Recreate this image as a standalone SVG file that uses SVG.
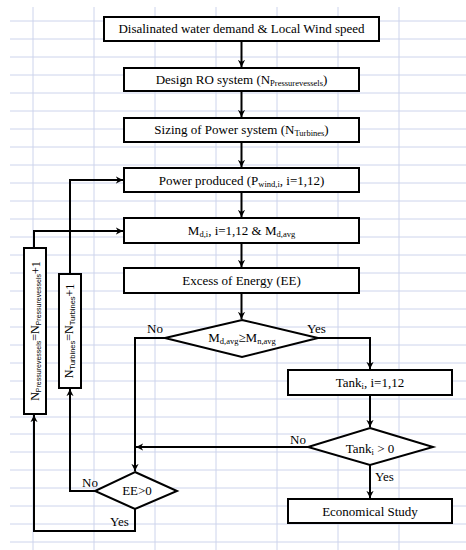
<svg xmlns="http://www.w3.org/2000/svg" width="466" height="550" viewBox="0 0 466 550">
<style>
.grid line{stroke:#cdd4ec;stroke-width:1}
.box{fill:#fff;stroke:#000;stroke-width:2}
.t{font-size:13px;fill:#000;text-anchor:middle}
.lbl{font-size:13px;fill:#000}
.s{font-size:8.5px}
.c{fill:none;stroke:#000;stroke-width:2}
</style>
<defs>
<marker id="ah" viewBox="0 0 10 10" refX="10" refY="5" markerWidth="3.6" markerHeight="3.6" orient="auto" markerUnits="strokeWidth">
<path d="M0,0 L10,5 L0,10 L3,5 z" fill="#000"/>
</marker>
</defs>
<rect width="466" height="550" fill="#fff"/>
<g class="grid">
<line x1="33" y1="7" x2="33" y2="550"/><line x1="94" y1="7" x2="94" y2="550"/><line x1="155" y1="7" x2="155" y2="550"/><line x1="216" y1="7" x2="216" y2="550"/><line x1="277" y1="7" x2="277" y2="550"/><line x1="338" y1="7" x2="338" y2="550"/><line x1="399" y1="7" x2="399" y2="550"/>
<line x1="10" y1="21" x2="466" y2="21"/><line x1="10" y1="39" x2="466" y2="39"/><line x1="10" y1="57" x2="466" y2="57"/><line x1="10" y1="75" x2="466" y2="75"/><line x1="10" y1="93" x2="466" y2="93"/><line x1="10" y1="111" x2="466" y2="111"/><line x1="10" y1="129" x2="466" y2="129"/><line x1="10" y1="147" x2="466" y2="147"/><line x1="10" y1="165" x2="466" y2="165"/><line x1="10" y1="183" x2="466" y2="183"/><line x1="10" y1="201" x2="466" y2="201"/><line x1="10" y1="219" x2="466" y2="219"/><line x1="10" y1="237" x2="466" y2="237"/><line x1="10" y1="255" x2="466" y2="255"/><line x1="10" y1="273" x2="466" y2="273"/><line x1="10" y1="291" x2="466" y2="291"/><line x1="10" y1="309" x2="466" y2="309"/><line x1="10" y1="327" x2="466" y2="327"/><line x1="10" y1="345" x2="466" y2="345"/><line x1="10" y1="363" x2="466" y2="363"/><line x1="10" y1="381" x2="466" y2="381"/><line x1="10" y1="399" x2="466" y2="399"/><line x1="10" y1="417" x2="466" y2="417"/><line x1="10" y1="434" x2="466" y2="434"/><line x1="10" y1="452" x2="466" y2="452"/><line x1="10" y1="470" x2="466" y2="470"/><line x1="10" y1="488" x2="466" y2="488"/><line x1="10" y1="506" x2="466" y2="506"/><line x1="10" y1="524" x2="466" y2="524"/><line x1="10" y1="542" x2="466" y2="542"/>
</g>
<g id="connectors">
<path class="c" d="M241.5,41 V67" marker-end="url(#ah)"/>
<path class="c" d="M241.5,91 V117" marker-end="url(#ah)"/>
<path class="c" d="M241.5,142 V167" marker-end="url(#ah)"/>
<path class="c" d="M241.5,192 V217" marker-end="url(#ah)"/>
<path class="c" d="M241.5,243 V267" marker-end="url(#ah)"/>
<path class="c" d="M241.5,293 V319" marker-end="url(#ah)"/>
<path class="c" d="M318,338 H370 V369" marker-end="url(#ah)"/>
<path class="c" d="M370,395 V427" marker-end="url(#ah)"/>
<path class="c" d="M370,465 V498" marker-end="url(#ah)"/>
<path class="c" d="M308,447 H136" marker-end="url(#ah)"/>
<path class="c" d="M165,338 H135 V471" marker-end="url(#ah)"/>
<path class="c" d="M95,491 H70 V389" marker-end="url(#ah)"/>
<path class="c" d="M135,509 V531 H34 V415" marker-end="url(#ah)"/>
<path class="c" d="M70,274 V180 H123" marker-end="url(#ah)"/>
<path class="c" d="M34,248 V231 H123" marker-end="url(#ah)"/>
</g>
<g font-family="Liberation Serif, Times New Roman, serif">
<g id="n1"><rect class="box" x="104" y="17" width="275" height="24"/><text class="t" x="241.5" y="33">Disalinated water demand &amp; Local Wind speed</text></g>
<g id="n2"><rect class="box" x="124" y="68" width="235" height="23"/><text class="t" x="241.5" y="84">Design RO system (N<tspan class="s" dy="2">Pressurevessels</tspan><tspan dy="-2">)</tspan></text></g>
<g id="n3"><rect class="box" x="124" y="118" width="235" height="24"/><text class="t" x="241.5" y="134">Sizing of Power system (N<tspan class="s" dy="2">Turbines</tspan><tspan dy="-2">)</tspan></text></g>
<g id="n4"><rect class="box" x="124" y="168" width="235" height="24"/><text class="t" x="241.5" y="185">Power produced (P<tspan class="s" dy="2">wind,i</tspan><tspan dy="-2">, i=1,12)</tspan></text></g>
<g id="n5"><rect class="box" x="124" y="218" width="235" height="25"/><text class="t" x="241.5" y="235">M<tspan class="s" dy="2">d,i</tspan><tspan dy="-2">, i=1,12 &amp; M</tspan><tspan class="s" dy="2">d,avg</tspan></text></g>
<g id="n6"><rect class="box" x="124" y="268" width="235" height="25"/><text class="t" x="241.5" y="285">Excess of Energy (EE)</text></g>
<g id="d1"><polygon class="box" points="242,320 318,338 242,357 165,338"/><text class="t" x="242" y="342">M<tspan class="s" dy="2">d,avg</tspan><tspan dy="-2">≥M</tspan><tspan class="s" dy="2">n,avg</tspan></text></g>
<g id="n7"><rect class="box" x="288" y="370" width="164" height="25"/><text class="t" x="370" y="387">Tank<tspan class="s" dy="2">i</tspan><tspan dy="-2">, i=1,12</tspan></text></g>
<g id="d2"><polygon class="box" points="370,428 433,447 370,465 308,447"/><text class="t" x="370" y="453">Tank<tspan class="s" dy="2">i</tspan><tspan dy="-2"> &gt; 0</tspan></text></g>
<g id="n8"><rect class="box" x="288" y="499" width="164" height="24"/><text class="t" x="370" y="516">Economical Study</text></g>
<g id="d3"><polygon class="box" points="135,472 177,491 135,509 95,491"/><text class="t" x="137" y="495">EE&gt;0</text></g>
<g id="n9"><rect class="box" x="24" y="248" width="22" height="166"/><text class="t" font-size="12" style="font-size:12px" transform="translate(38.5,331) rotate(-90)" x="0" y="0">N<tspan font-family="Liberation Sans, Arial, sans-serif" style="font-size:7px" dy="2">Pressurevessels</tspan><tspan dy="-2">=N</tspan><tspan font-family="Liberation Sans, Arial, sans-serif" style="font-size:7px" dy="2">Pressurevessels</tspan><tspan dy="-1">+1</tspan></text></g>
<g id="n10"><rect class="box" x="59" y="274" width="22" height="114"/><text class="t" style="font-size:12px" transform="translate(73,331) rotate(-90)" x="0" y="0">N<tspan font-family="Liberation Sans, Arial, sans-serif" style="font-size:7.5px" dy="2">Turbines</tspan><tspan dy="-2">=N</tspan><tspan font-family="Liberation Sans, Arial, sans-serif" style="font-size:7.5px" dy="2">Turbines</tspan><tspan dy="-1">+1</tspan></text></g>
<g id="labels">
<text class="lbl" x="147" y="333">No</text>
<text class="lbl" x="307" y="333">Yes</text>
<text class="lbl" x="290" y="444">No</text>
<text class="lbl" x="375" y="481">Yes</text>
<text class="lbl" x="82" y="487">No</text>
<text class="lbl" x="110" y="526">Yes</text>
</g>
</g>
</svg>
